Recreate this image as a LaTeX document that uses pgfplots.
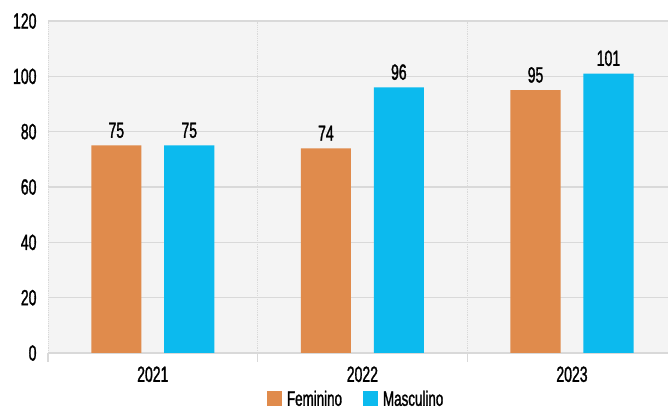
\documentclass[border=0pt]{standalone}
\usepackage{pgfplots}
\pgfplotsset{compat=1.18}
\usepackage{fontspec}
\setmainfont{Liberation Sans}[FakeStretch=0.64, FakeBold=1.3]
\definecolor{fem}{HTML}{E08B4C}
\definecolor{masc}{HTML}{0CBAEE}
\definecolor{bgc}{HTML}{F4F4F4}
\definecolor{gridc}{HTML}{D9D9D9}
\begin{document}
\begin{tikzpicture}[x=1bp,y=1bp]
\useasboundingbox (-48bp,-59bp) rectangle (620bp,353bp);
\begin{axis}[
  at={(0,0)}, anchor=south west,
  scale only axis, width=620bp, height=332bp,
  xmin=-0.5, xmax=2.458, ymin=0, ymax=120,
  ytick={0,20,...,120},
  xtick={0,1,2}, xticklabels={2021,2022,2023},
  extra x ticks={-0.5,0.5,1.5},
  extra x tick labels={},
  extra x tick style={grid=major, major grid style={densely dotted, gridc, line width=0.6bp}, tick style={draw=gridc, line width=1.2bp}, major tick length=9bp},
  tick align=outside,
  major tick length=0pt,
  ymajorgrids, major grid style={draw=gridc, line width=1.2bp},
  axis background/.style={fill=bgc},
  axis x line*=bottom, axis y line*=left,
  x axis line style={draw=gridc, line width=1.5bp, -},
  y axis line style={draw=none},
  font=\fontsize{22}{24}\selectfont,
  tick label style={font=\fontsize{22}{24}\selectfont, text=black},
  /pgf/number format/assume math mode=true,
  yticklabel style={xshift=-8bp},
  xticklabel style={yshift=-10bp},
  ybar, bar width=0.239,
  clip=true,
  nodes near coords,
  every node near coord/.append style={font=\fontsize{22}{24}\selectfont, text=black, yshift=4bp},
  legend style={at={(0.497,-55bp)}, anchor=south, legend columns=2, draw=none, fill=none,
    inner sep=0pt, nodes={inner ysep=0.5bp},
    font=\fontsize{21}{23}\selectfont,
    /tikz/every even column/.append style={column sep=19bp},
    /tikz/every odd column/.append style={column sep=3bp}},
  legend image code/.code={\fill[#1] (0bp,-7.5bp) rectangle (15bp,7.5bp);},
]
\addplot[fill=fem, draw=none, bar shift=-0.174] coordinates {(0,75) (1,74) (2,95)};
\addplot[fill=masc, draw=none, bar shift=0.174] coordinates {(0,75) (1,96) (2,101)};
\legend{Feminino,Masculino}
\end{axis}
\end{tikzpicture}
\end{document}
